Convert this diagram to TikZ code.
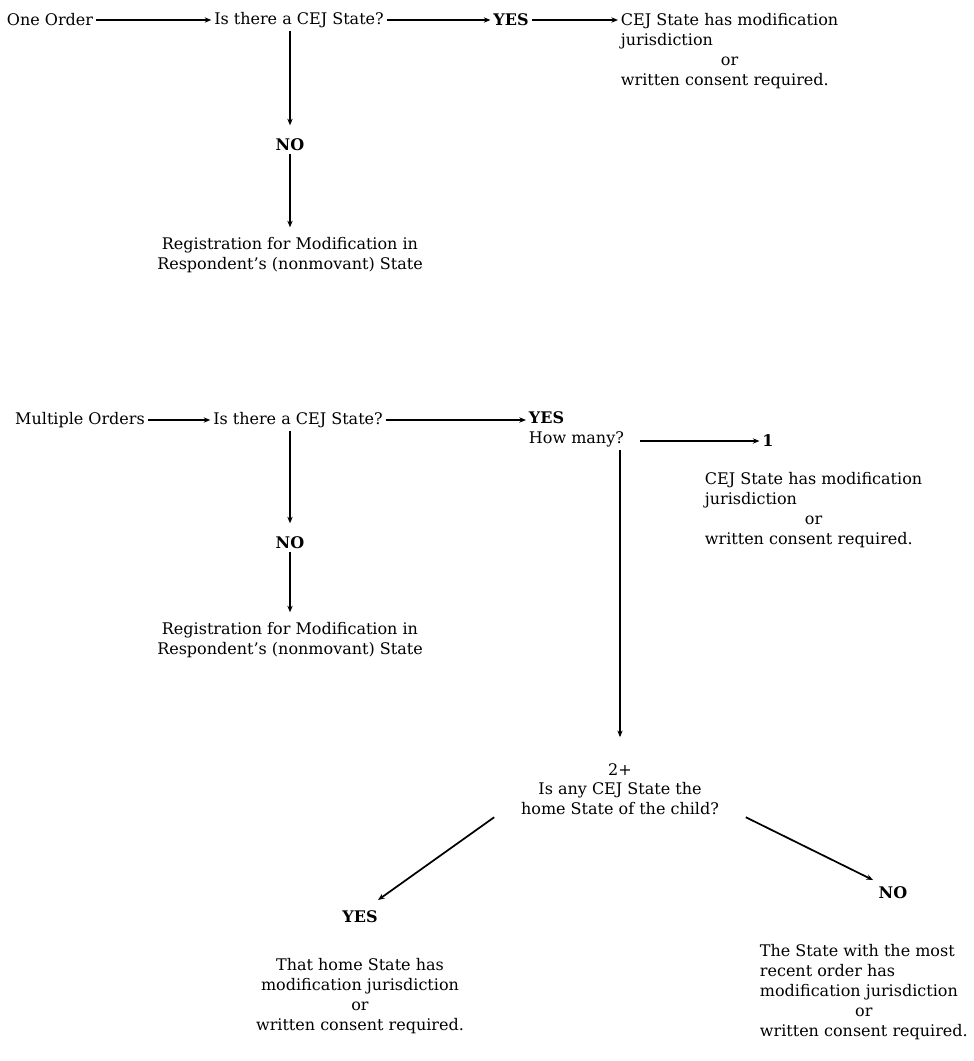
\documentclass[tikz,border=0pt]{standalone}
\usepackage{fontspec}
\setmainfont{DejaVu Serif}
\usepackage{tikz}
\usetikzlibrary{arrows.meta,positioning,calc}

\begin{document}
\begin{tikzpicture}[x=0.75pt,y=-0.75pt,
  txt/.style={font=\fontsize{12}{15}\selectfont,inner sep=2pt},
  ans/.style={txt,font=\fontsize{12}{15}\selectfont\bfseries},
  arr/.style={line width=1.3pt,-{Stealth[length=5pt,width=4pt]}}]
  \useasboundingbox (0,0) rectangle (974,1061); % 全体の大きさ
  % 命令が一つの場合
  \node[txt] (one) at (50,20) {One Order}; % 出発点
  \node[txt] (q1) at (299,20) {Is there a CEJ State?}; % 最初の問い
  \node[ans] (yes1) at (511,20) {YES}; % はい
  \node[txt,anchor=north west] (res1) at (618,9) {\begin{tabular}{@{}l@{}}CEJ State has modification\\jurisdiction\\\multicolumn{1}{@{}c@{}}{or}\\written consent required.\end{tabular}}; % 結果
  \node[ans] (no1) at (290,145) {NO}; % いいえ
  \node[txt,anchor=north,align=center] (reg1) at (290,234) {Registration for Modification in\\Respondent's (nonmovant) State}; % 登録先
  \draw[arr] (one) -- (q1); % 出発点から問いへ
  \draw[arr] (q1) -- (yes1); % 問いからはいへ
  \draw[arr] (yes1) -- (yes1 -| res1.west); % はいから結果へ
  \draw[arr,shorten >=8pt] (q1.south -| no1) -- (no1); % 問いからいいえへ
  \draw[arr,shorten >=5pt] (no1) -- (reg1); % いいえから登録先へ
  % 命令が複数の場合
  \node[txt] (multi) at (80,420) {Multiple Orders}; % 出発点
  \node[txt] (q2) at (298,420) {Is there a CEJ State?}; % 最初の問い
  \node[txt,anchor=north west,align=left] (yes2) at (526,409) {\textbf{YES}\\How many?}; % はいと数の問い
  \node[ans] (one2) at (768,441) {1}; % 一つ
  \node[txt,anchor=north west] (res2) at (702,468) {\begin{tabular}{@{}l@{}}CEJ State has modification\\jurisdiction\\\multicolumn{1}{@{}c@{}}{or}\\written consent required.\end{tabular}}; % 一つの場合の結果
  \node[ans] (no2) at (290,543) {NO}; % いいえ
  \node[txt,anchor=north,align=center] (reg2) at (290,619) {Registration for Modification in\\Respondent's (nonmovant) State}; % 登録先
  \node[txt] (two) at (620,770) {2+}; % 二つ以上
  \node[txt,anchor=north,align=center] (q3) at (620,779) {Is any CEJ State the\\home State of the child?}; % 二つ目の問い
  \node[ans] (yes3) at (360,917) {YES}; % はい
  \node[ans] (no3) at (893,893) {NO}; % いいえ
  \node[txt,anchor=north,align=center] (res3) at (360,955) {That home State has\\modification jurisdiction\\or\\written consent required.}; % はいの結果
  \node[txt,anchor=north west] (res4) at (757,940) {\begin{tabular}{@{}l@{}}The State with the most\\recent order has\\modification jurisdiction\\\multicolumn{1}{@{}c@{}}{or}\\written consent required.\end{tabular}}; % いいえの結果
  \draw[arr] (multi) -- (q2); % 出発点から問いへ
  \draw[arr] (q2.east) -- (q2.east -| yes2.west); % 問いからはいへ
  \draw[arr] ([xshift=10]one2 -| yes2.east) -- (one2); % 数の問いから一つへ
  \draw[arr,shorten >=18pt] (yes2.south -| two) -- (two); % 数の問いから二つ以上へ
  \draw[arr,shorten >=8pt] (q2.south -| no2) -- (no2); % 問いからいいえへ
  \draw[arr,shorten >=5pt] (no2) -- (reg2); % いいえから登録先へ
  \draw[arr] ([xshift=-18]q3.south west) -- ([shift={(18,-8)}]yes3.north); % 問いからはいへ
  \draw[arr] ([xshift=18]q3.south east) -- ([shift={(-20,-4)}]no3.north); % 問いからいいえへ
\end{tikzpicture}
\end{document}
